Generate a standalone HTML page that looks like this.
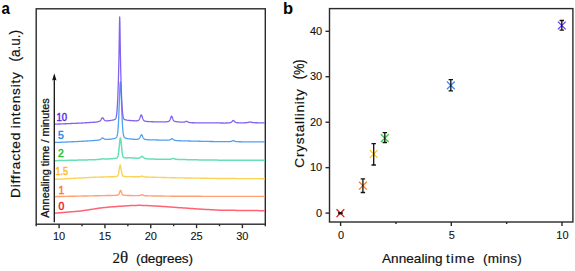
<!DOCTYPE html>
<html><head><meta charset="utf-8"><style>
html,body{margin:0;padding:0;background:#fff;width:575px;height:271px;overflow:hidden;}
svg{display:block;}
</style></head><body>
<svg width="575" height="271" viewBox="0 0 575 271">
<rect width="575" height="271" fill="#fff"/>
<rect x="36.2" y="8.8" width="229.10" height="215.40" fill="none" stroke="#2a2a2a" stroke-width="1.4"/>
<line x1="36.20" y1="224.2" x2="36.20" y2="226.2" stroke="#2a2a2a" stroke-width="1.4"/>
<line x1="59.11" y1="224.2" x2="59.11" y2="228.2" stroke="#2a2a2a" stroke-width="1.4"/>
<line x1="82.02" y1="224.2" x2="82.02" y2="226.2" stroke="#2a2a2a" stroke-width="1.4"/>
<line x1="104.93" y1="224.2" x2="104.93" y2="228.2" stroke="#2a2a2a" stroke-width="1.4"/>
<line x1="127.84" y1="224.2" x2="127.84" y2="226.2" stroke="#2a2a2a" stroke-width="1.4"/>
<line x1="150.75" y1="224.2" x2="150.75" y2="228.2" stroke="#2a2a2a" stroke-width="1.4"/>
<line x1="173.66" y1="224.2" x2="173.66" y2="226.2" stroke="#2a2a2a" stroke-width="1.4"/>
<line x1="196.57" y1="224.2" x2="196.57" y2="228.2" stroke="#2a2a2a" stroke-width="1.4"/>
<line x1="219.48" y1="224.2" x2="219.48" y2="226.2" stroke="#2a2a2a" stroke-width="1.4"/>
<line x1="242.39" y1="224.2" x2="242.39" y2="228.2" stroke="#2a2a2a" stroke-width="1.4"/>
<line x1="265.30" y1="224.2" x2="265.30" y2="226.2" stroke="#2a2a2a" stroke-width="1.4"/>
<text x="59.11" y="240" font-size="11" text-anchor="middle" font-family="Liberation Sans, sans-serif" fill="#111" stroke="#111" stroke-width="0.1">10</text>
<text x="104.93" y="240" font-size="11" text-anchor="middle" font-family="Liberation Sans, sans-serif" fill="#111" stroke="#111" stroke-width="0.1">15</text>
<text x="150.75" y="240" font-size="11" text-anchor="middle" font-family="Liberation Sans, sans-serif" fill="#111" stroke="#111" stroke-width="0.1">20</text>
<text x="196.57" y="240" font-size="11" text-anchor="middle" font-family="Liberation Sans, sans-serif" fill="#111" stroke="#111" stroke-width="0.1">25</text>
<text x="242.39" y="240" font-size="11" text-anchor="middle" font-family="Liberation Sans, sans-serif" fill="#111" stroke="#111" stroke-width="0.1">30</text>
<path d="M55.00,213.20 L56.00,213.11 L57.00,213.03 L58.00,212.94 L59.00,212.85 L60.00,212.77 L61.00,212.68 L62.00,212.59 L63.00,212.51 L64.00,212.42 L65.00,212.33 L66.00,212.25 L67.00,212.16 L68.00,212.07 L69.00,211.99 L70.00,211.90 L71.00,211.82 L72.00,211.74 L73.00,211.66 L74.00,211.58 L75.00,211.50 L76.00,211.42 L77.00,211.34 L78.00,211.26 L79.00,211.18 L80.00,211.10 L81.00,210.95 L82.00,210.80 L83.00,210.65 L84.00,210.50 L85.00,210.35 L86.00,210.20 L87.00,210.05 L88.00,209.90 L89.00,209.75 L90.00,209.60 L91.00,209.44 L92.00,209.28 L93.00,209.12 L94.00,208.96 L95.00,208.80 L96.00,208.64 L97.00,208.48 L98.00,208.32 L99.00,208.16 L100.00,208.00 L101.00,207.90 L102.00,207.80 L103.00,207.70 L104.00,207.60 L105.00,207.50 L106.00,207.40 L107.00,207.30 L108.00,207.20 L109.00,207.10 L110.00,207.00 L111.00,206.93 L112.00,206.86 L113.00,206.79 L114.00,206.72 L115.00,206.65 L116.00,206.58 L117.00,206.51 L118.00,206.44 L119.00,206.37 L120.00,206.30 L121.00,206.23 L122.00,206.16 L123.00,206.09 L124.00,206.02 L125.00,205.95 L126.00,205.88 L127.00,205.81 L128.00,205.74 L129.00,205.67 L130.00,205.60 L131.00,205.57 L132.00,205.54 L133.00,205.51 L134.00,205.48 L135.00,205.45 L136.00,205.42 L137.00,205.39 L138.00,205.36 L139.00,205.33 L140.00,205.30 L141.00,205.34 L142.00,205.38 L143.00,205.42 L144.00,205.46 L145.00,205.50 L146.00,205.54 L147.00,205.58 L148.00,205.62 L149.00,205.66 L150.00,205.70 L151.00,205.76 L152.00,205.82 L153.00,205.88 L154.00,205.94 L155.00,206.00 L156.00,206.06 L157.00,206.12 L158.00,206.18 L159.00,206.24 L160.00,206.30 L161.00,206.36 L162.00,206.42 L163.00,206.48 L164.00,206.54 L165.00,206.60 L166.00,206.67 L167.00,206.75 L168.00,206.82 L169.00,206.89 L170.00,206.97 L171.00,207.04 L172.00,207.11 L173.00,207.19 L174.00,207.26 L175.00,207.33 L176.00,207.41 L177.00,207.48 L178.00,207.55 L179.00,207.63 L180.00,207.70 L181.00,207.77 L182.00,207.84 L183.00,207.91 L184.00,207.98 L185.00,208.05 L186.00,208.12 L187.00,208.19 L188.00,208.26 L189.00,208.33 L190.00,208.40 L191.00,208.47 L192.00,208.54 L193.00,208.61 L194.00,208.68 L195.00,208.75 L196.00,208.82 L197.00,208.89 L198.00,208.96 L199.00,209.03 L200.00,209.10 L201.00,209.16 L202.00,209.21 L203.00,209.26 L204.00,209.32 L205.00,209.38 L206.00,209.43 L207.00,209.48 L208.00,209.54 L209.00,209.59 L210.00,209.65 L211.00,209.70 L212.00,209.76 L213.00,209.81 L214.00,209.87 L215.00,209.92 L216.00,209.98 L217.00,210.03 L218.00,210.09 L219.00,210.14 L220.00,210.20 L221.00,210.21 L222.00,210.22 L223.00,210.23 L224.00,210.24 L225.00,210.26 L226.00,210.27 L227.00,210.28 L228.00,210.29 L229.00,210.30 L230.00,210.31 L231.00,210.32 L232.00,210.33 L233.00,210.34 L234.00,210.36 L235.00,210.37 L236.00,210.38 L237.00,210.39 L238.00,210.40 L239.00,210.41 L240.00,210.42 L241.00,210.43 L242.00,210.44 L243.00,210.46 L244.00,210.47 L245.00,210.48 L246.00,210.49 L247.00,210.50 L248.00,210.51 L249.00,210.52 L250.00,210.53 L251.00,210.54 L252.00,210.56 L253.00,210.57 L254.00,210.58 L255.00,210.59 L256.00,210.60 L257.00,210.61 L258.00,210.62 L259.00,210.63 L260.00,210.64 L261.00,210.66 L262.00,210.67 L263.00,210.68 L264.00,210.69 L265.00,210.70" fill="none" stroke="#ff6474" stroke-width="1.5" stroke-linejoin="round"/>
<path d="M55.00,196.60 L56.00,196.58 L57.00,196.56 L58.00,196.54 L59.00,196.52 L60.00,196.50 L61.00,196.48 L62.00,196.46 L63.00,196.44 L64.00,196.42 L65.00,196.40 L66.00,196.38 L67.00,196.36 L68.00,196.34 L69.00,196.32 L70.00,196.30 L71.00,196.28 L72.00,196.26 L73.00,196.24 L74.00,196.22 L75.00,196.20 L76.00,196.18 L77.00,196.16 L78.00,196.14 L79.00,196.12 L80.00,196.10 L81.00,196.08 L82.00,196.06 L83.00,196.04 L84.00,196.02 L85.00,196.00 L86.00,195.98 L87.00,195.96 L88.00,195.94 L89.00,195.92 L90.00,195.90 L91.00,195.88 L92.00,195.86 L93.00,195.84 L94.00,195.82 L95.00,195.80 L96.00,195.78 L97.00,195.76 L98.00,195.74 L99.00,195.72 L100.00,195.70 L101.00,195.67 L102.00,195.65 L103.00,195.63 L104.00,195.61 L105.00,195.59 L106.00,195.57 L107.00,195.55 L108.00,195.53 L109.00,195.51 L110.00,195.48 L111.00,195.46 L112.00,195.43 L113.00,195.41 L114.00,195.38 L114.60,195.36 L114.80,195.35 L115.00,195.34 L115.20,195.34 L115.40,195.33 L115.60,195.32 L115.80,195.31 L116.00,195.30 L116.20,195.29 L116.40,195.28 L116.60,195.26 L116.80,195.25 L117.00,195.23 L117.20,195.21 L117.40,195.18 L117.60,195.15 L117.80,195.11 L118.00,195.04 L118.20,194.95 L118.40,194.82 L118.60,194.64 L118.80,194.39 L119.00,194.05 L119.20,193.64 L119.40,193.13 L119.60,192.57 L119.80,191.96 L120.00,191.37 L120.20,190.87 L120.40,190.53 L120.60,190.41 L120.80,190.54 L121.00,190.90 L121.20,191.41 L121.40,192.00 L121.60,192.60 L121.80,193.17 L122.00,193.67 L122.20,194.09 L122.40,194.42 L122.60,194.68 L122.80,194.86 L123.00,194.99 L123.20,195.09 L123.40,195.15 L123.60,195.20 L123.80,195.23 L124.00,195.26 L124.20,195.28 L124.40,195.30 L124.60,195.31 L124.80,195.33 L125.00,195.34 L125.20,195.35 L125.40,195.37 L125.60,195.38 L125.80,195.39 L126.00,195.40 L126.20,195.41 L126.40,195.41 L126.60,195.42 L127.00,195.44 L128.00,195.47 L129.00,195.51 L130.00,195.54 L131.00,195.57 L132.00,195.59 L133.00,195.62 L134.00,195.64 L135.00,195.67 L136.00,195.67 L136.20,195.67 L136.40,195.67 L136.60,195.67 L136.80,195.67 L137.00,195.67 L137.20,195.67 L137.40,195.67 L137.60,195.67 L137.80,195.66 L138.00,195.66 L138.20,195.65 L138.40,195.64 L138.60,195.63 L138.80,195.62 L139.00,195.60 L139.20,195.58 L139.40,195.55 L139.60,195.52 L139.80,195.48 L140.00,195.43 L140.20,195.37 L140.40,195.31 L140.60,195.23 L140.80,195.15 L141.00,195.07 L141.20,194.98 L141.40,194.91 L141.60,194.84 L141.80,194.80 L142.00,194.79 L142.20,194.81 L142.40,194.85 L142.60,194.92 L142.80,195.00 L143.00,195.09 L143.20,195.18 L143.40,195.27 L143.60,195.35 L143.80,195.42 L144.00,195.48 L144.20,195.54 L144.40,195.59 L144.60,195.63 L144.80,195.66 L145.00,195.69 L145.20,195.71 L145.40,195.73 L145.60,195.74 L145.80,195.76 L146.00,195.77 L146.20,195.78 L146.40,195.79 L146.60,195.79 L146.80,195.80 L147.00,195.81 L147.20,195.81 L147.40,195.82 L147.60,195.83 L147.80,195.83 L148.00,195.84 L149.00,195.86 L150.00,195.88 L151.00,195.90 L152.00,195.91 L153.00,195.93 L154.00,195.94 L155.00,195.96 L156.00,195.97 L157.00,195.99 L158.00,196.00 L159.00,196.01 L160.00,196.03 L161.00,196.04 L162.00,196.06 L163.00,196.07 L164.00,196.08 L165.00,196.10 L166.00,196.11 L167.00,196.12 L168.00,196.14 L169.00,196.15 L170.00,196.16 L171.00,196.18 L172.00,196.19 L173.00,196.20 L174.00,196.22 L175.00,196.23 L176.00,196.24 L177.00,196.26 L178.00,196.27 L179.00,196.29 L180.00,196.30 L181.00,196.30 L182.00,196.30 L183.00,196.30 L184.00,196.30 L185.00,196.30 L186.00,196.31 L187.00,196.31 L188.00,196.31 L189.00,196.31 L190.00,196.31 L191.00,196.31 L192.00,196.31 L193.00,196.31 L194.00,196.32 L195.00,196.32 L196.00,196.32 L197.00,196.32 L198.00,196.32 L199.00,196.32 L200.00,196.32 L201.00,196.32 L202.00,196.33 L203.00,196.33 L204.00,196.33 L205.00,196.33 L206.00,196.33 L207.00,196.33 L208.00,196.33 L209.00,196.33 L210.00,196.33 L211.00,196.34 L212.00,196.34 L213.00,196.34 L214.00,196.34 L215.00,196.34 L216.00,196.34 L217.00,196.34 L218.00,196.34 L219.00,196.35 L220.00,196.35 L221.00,196.35 L222.00,196.35 L223.00,196.35 L224.00,196.35 L225.00,196.35 L226.00,196.35 L227.00,196.35 L228.00,196.36 L229.00,196.36 L230.00,196.36 L231.00,196.36 L232.00,196.36 L233.00,196.36 L234.00,196.36 L235.00,196.36 L236.00,196.37 L237.00,196.37 L238.00,196.37 L239.00,196.37 L240.00,196.37 L241.00,196.37 L242.00,196.37 L243.00,196.37 L244.00,196.38 L245.00,196.38 L246.00,196.38 L247.00,196.38 L248.00,196.38 L249.00,196.38 L250.00,196.38 L251.00,196.38 L252.00,196.38 L253.00,196.39 L254.00,196.39 L255.00,196.39 L256.00,196.39 L257.00,196.39 L258.00,196.39 L259.00,196.39 L260.00,196.39 L261.00,196.40 L262.00,196.40 L263.00,196.40 L264.00,196.40 L265.00,196.40" fill="none" stroke="#ffa272" stroke-width="1.4" stroke-linejoin="round"/>
<path d="M55.00,179.30 L56.00,179.25 L57.00,179.19 L58.00,179.14 L59.00,179.09 L60.00,179.04 L61.00,178.98 L62.00,178.93 L63.00,178.88 L64.00,178.83 L65.00,178.77 L66.00,178.72 L67.00,178.67 L68.00,178.62 L69.00,178.56 L70.00,178.51 L71.00,178.46 L72.00,178.41 L73.00,178.35 L74.00,178.30 L75.00,178.25 L76.00,178.19 L77.00,178.14 L78.00,178.09 L79.00,178.04 L80.00,177.98 L81.00,177.93 L82.00,177.88 L83.00,177.83 L84.00,177.77 L85.00,177.72 L86.00,177.67 L87.00,177.62 L88.00,177.56 L89.00,177.51 L90.00,177.46 L91.00,177.40 L92.00,177.35 L93.00,177.30 L94.00,177.24 L95.00,177.19 L96.00,177.16 L97.00,177.14 L98.00,177.11 L99.00,177.08 L100.00,177.05 L101.00,177.03 L102.00,177.00 L103.00,176.97 L104.00,176.94 L105.00,176.91 L106.00,176.88 L107.00,176.85 L108.00,176.82 L109.00,176.79 L110.00,176.75 L111.00,176.74 L112.00,176.72 L113.00,176.69 L114.00,176.65 L114.20,176.64 L114.40,176.63 L114.60,176.62 L114.80,176.61 L115.00,176.60 L115.20,176.58 L115.40,176.56 L115.60,176.55 L115.80,176.53 L116.00,176.50 L116.20,176.47 L116.40,176.44 L116.60,176.40 L116.80,176.34 L117.00,176.27 L117.20,176.17 L117.40,176.03 L117.60,175.83 L117.80,175.55 L118.00,175.16 L118.20,174.63 L118.40,173.95 L118.60,173.10 L118.80,172.08 L119.00,170.90 L119.20,169.62 L119.40,168.30 L119.60,167.05 L119.80,166.01 L120.00,165.30 L120.20,165.05 L120.40,165.30 L120.60,166.00 L120.80,167.05 L121.00,168.29 L121.20,169.61 L121.40,170.89 L121.60,172.06 L121.80,173.09 L122.00,173.94 L122.20,174.61 L122.40,175.13 L122.60,175.52 L122.80,175.80 L123.00,176.00 L123.20,176.14 L123.40,176.24 L123.60,176.31 L123.80,176.36 L124.00,176.40 L124.20,176.43 L124.40,176.46 L124.60,176.48 L124.80,176.50 L125.00,176.51 L125.20,176.53 L125.40,176.54 L125.60,176.55 L125.80,176.56 L126.00,176.57 L126.20,176.58 L127.00,176.60 L128.00,176.62 L129.00,176.63 L130.00,176.64 L131.00,176.67 L132.00,176.69 L133.00,176.72 L134.00,176.74 L135.00,176.76 L136.00,176.77 L136.20,176.77 L136.40,176.78 L136.60,176.78 L136.80,176.78 L137.00,176.78 L137.20,176.78 L137.40,176.78 L137.60,176.78 L137.80,176.78 L138.00,176.78 L138.20,176.78 L138.40,176.78 L138.60,176.77 L138.80,176.76 L139.00,176.75 L139.20,176.73 L139.40,176.71 L139.60,176.69 L139.80,176.66 L140.00,176.62 L140.20,176.58 L140.40,176.53 L140.60,176.47 L140.80,176.41 L141.00,176.35 L141.20,176.28 L141.40,176.22 L141.60,176.18 L141.80,176.15 L142.00,176.14 L142.20,176.16 L142.40,176.20 L142.60,176.26 L142.80,176.33 L143.00,176.40 L143.20,176.47 L143.40,176.55 L143.60,176.61 L143.80,176.67 L144.00,176.73 L144.20,176.77 L144.40,176.82 L144.60,176.85 L144.80,176.88 L145.00,176.90 L145.20,176.93 L145.40,176.94 L145.60,176.96 L145.80,176.97 L146.00,176.99 L146.20,177.00 L146.40,177.01 L146.60,177.02 L146.80,177.02 L147.00,177.03 L147.20,177.04 L147.40,177.05 L147.60,177.06 L147.80,177.06 L148.00,177.07 L149.00,177.10 L150.00,177.14 L151.00,177.16 L152.00,177.19 L153.00,177.22 L154.00,177.25 L155.00,177.28 L156.00,177.30 L157.00,177.33 L158.00,177.36 L159.00,177.38 L160.00,177.41 L161.00,177.43 L162.00,177.46 L163.00,177.49 L164.00,177.51 L165.00,177.54 L166.00,177.56 L167.00,177.59 L168.00,177.62 L169.00,177.64 L170.00,177.67 L171.00,177.69 L172.00,177.72 L173.00,177.75 L174.00,177.77 L175.00,177.80 L176.00,177.81 L177.00,177.83 L178.00,177.84 L179.00,177.86 L180.00,177.88 L181.00,177.89 L182.00,177.91 L183.00,177.92 L184.00,177.94 L185.00,177.95 L186.00,177.97 L187.00,177.99 L188.00,178.00 L189.00,178.02 L190.00,178.03 L191.00,178.05 L192.00,178.06 L193.00,178.08 L194.00,178.09 L195.00,178.11 L196.00,178.13 L197.00,178.14 L198.00,178.16 L199.00,178.17 L200.00,178.19 L201.00,178.20 L202.00,178.22 L203.00,178.23 L204.00,178.25 L205.00,178.27 L206.00,178.28 L207.00,178.30 L208.00,178.31 L209.00,178.33 L210.00,178.34 L211.00,178.36 L212.00,178.37 L213.00,178.39 L214.00,178.41 L215.00,178.42 L216.00,178.44 L217.00,178.45 L218.00,178.47 L219.00,178.48 L220.00,178.50 L221.00,178.50 L222.00,178.51 L223.00,178.51 L224.00,178.52 L225.00,178.52 L226.00,178.53 L227.00,178.53 L228.00,178.53 L229.00,178.54 L230.00,178.54 L231.00,178.55 L232.00,178.55 L233.00,178.56 L234.00,178.56 L235.00,178.57 L236.00,178.57 L237.00,178.58 L238.00,178.58 L239.00,178.58 L240.00,178.59 L241.00,178.59 L242.00,178.60 L243.00,178.60 L244.00,178.61 L245.00,178.61 L246.00,178.62 L247.00,178.62 L248.00,178.62 L249.00,178.63 L250.00,178.63 L251.00,178.64 L252.00,178.64 L253.00,178.65 L254.00,178.65 L255.00,178.66 L256.00,178.66 L257.00,178.66 L258.00,178.67 L259.00,178.67 L260.00,178.68 L261.00,178.68 L262.00,178.69 L263.00,178.69 L264.00,178.70 L265.00,178.70" fill="none" stroke="#fbd25a" stroke-width="1.4" stroke-linejoin="round"/>
<path d="M55.00,160.70 L56.00,160.67 L57.00,160.65 L58.00,160.62 L59.00,160.60 L60.00,160.57 L61.00,160.55 L62.00,160.52 L63.00,160.50 L64.00,160.47 L65.00,160.45 L66.00,160.42 L67.00,160.40 L68.00,160.37 L69.00,160.35 L70.00,160.32 L71.00,160.30 L72.00,160.27 L73.00,160.25 L74.00,160.22 L75.00,160.19 L76.00,160.17 L77.00,160.14 L78.00,160.12 L79.00,160.09 L80.00,160.07 L81.00,160.04 L82.00,160.02 L83.00,159.99 L84.00,159.97 L85.00,159.94 L86.00,159.92 L87.00,159.89 L88.00,159.86 L89.00,159.84 L90.00,159.81 L91.00,159.79 L92.00,159.76 L93.00,159.73 L94.00,159.70 L95.00,159.68 L96.00,159.62 L96.50,159.59 L96.70,159.58 L96.90,159.57 L97.00,159.56 L97.10,159.55 L97.30,159.54 L97.50,159.53 L97.70,159.52 L97.90,159.50 L98.00,159.50 L98.10,159.49 L98.30,159.47 L98.50,159.46 L98.70,159.44 L98.90,159.43 L99.00,159.42 L99.10,159.41 L99.30,159.39 L99.50,159.37 L99.70,159.35 L99.90,159.32 L100.00,159.31 L100.10,159.29 L100.30,159.26 L100.50,159.22 L100.70,159.18 L100.90,159.14 L101.00,159.11 L101.10,159.09 L101.30,159.03 L101.50,158.98 L101.70,158.93 L101.90,158.87 L102.00,158.85 L102.10,158.83 L102.30,158.80 L102.50,158.78 L102.70,158.78 L102.90,158.79 L103.00,158.80 L103.10,158.81 L103.30,158.84 L103.50,158.87 L103.70,158.90 L103.90,158.93 L104.00,158.95 L104.10,158.96 L104.30,158.98 L104.50,159.00 L104.70,159.02 L104.90,159.03 L105.00,159.03 L105.10,159.03 L105.30,159.04 L105.50,159.04 L105.70,159.04 L105.90,159.03 L106.00,159.03 L106.10,159.03 L106.30,159.02 L106.50,159.01 L106.70,159.01 L106.90,159.00 L107.00,158.99 L107.10,158.99 L107.30,158.98 L107.50,158.97 L107.70,158.96 L107.90,158.95 L108.00,158.94 L108.10,158.94 L108.30,158.93 L108.50,158.92 L109.00,158.89 L110.00,158.83 L111.00,158.76 L112.00,158.69 L113.00,158.62 L114.00,158.53 L114.40,158.49 L114.60,158.47 L114.80,158.44 L115.00,158.42 L115.20,158.39 L115.40,158.36 L115.60,158.33 L115.80,158.30 L116.00,158.26 L116.20,158.21 L116.40,158.16 L116.60,158.09 L116.80,158.00 L117.00,157.88 L117.20,157.71 L117.40,157.47 L117.60,157.13 L117.80,156.67 L118.00,156.03 L118.20,155.18 L118.40,154.10 L118.60,152.74 L118.80,151.12 L119.00,149.25 L119.20,147.19 L119.40,145.03 L119.60,142.90 L119.80,140.96 L120.00,139.38 L120.20,138.34 L120.40,137.97 L120.60,138.32 L120.80,139.34 L121.00,140.90 L121.20,142.82 L121.40,144.93 L121.60,147.07 L121.80,149.11 L122.00,150.96 L122.20,152.56 L122.40,153.89 L122.60,154.96 L122.80,155.79 L123.00,156.40 L123.20,156.85 L123.40,157.17 L123.60,157.39 L123.80,157.54 L124.00,157.64 L124.20,157.71 L124.40,157.76 L124.60,157.79 L124.80,157.81 L125.00,157.83 L125.20,157.85 L125.40,157.86 L125.60,157.87 L125.80,157.87 L126.00,157.88 L126.20,157.88 L126.40,157.88 L127.00,157.88 L128.00,157.87 L129.00,157.84 L130.00,157.80 L131.00,157.87 L132.00,157.93 L133.00,157.99 L134.00,158.04 L135.00,158.09 L136.00,158.13 L136.20,158.14 L136.40,158.15 L136.60,158.15 L136.80,158.16 L137.00,158.16 L137.20,158.16 L137.40,158.17 L137.60,158.17 L137.80,158.16 L138.00,158.16 L138.20,158.15 L138.40,158.14 L138.60,158.13 L138.80,158.10 L139.00,158.07 L139.20,158.02 L139.40,157.97 L139.60,157.90 L139.80,157.81 L140.00,157.70 L140.20,157.57 L140.40,157.43 L140.60,157.26 L140.80,157.08 L141.00,156.90 L141.20,156.71 L141.40,156.54 L141.60,156.40 L141.80,156.31 L142.00,156.29 L142.20,156.34 L142.40,156.45 L142.60,156.62 L142.80,156.81 L143.00,157.02 L143.20,157.23 L143.40,157.44 L143.60,157.63 L143.80,157.80 L144.00,157.95 L144.20,158.08 L144.40,158.20 L144.60,158.29 L144.80,158.38 L145.00,158.45 L145.20,158.50 L145.40,158.55 L145.60,158.60 L145.80,158.63 L146.00,158.66 L146.20,158.69 L146.40,158.72 L146.60,158.74 L146.80,158.77 L147.00,158.79 L147.20,158.81 L147.40,158.83 L147.60,158.85 L147.80,158.87 L148.00,158.88 L149.00,158.97 L150.00,159.04 L151.00,159.06 L152.00,159.08 L153.00,159.10 L154.00,159.12 L155.00,159.13 L156.00,159.15 L157.00,159.16 L158.00,159.17 L159.00,159.19 L160.00,159.20 L161.00,159.21 L162.00,159.22 L163.00,159.23 L164.00,159.24 L165.00,159.25 L166.00,159.26 L167.00,159.27 L167.20,159.27 L167.40,159.27 L167.60,159.27 L167.80,159.27 L168.00,159.27 L168.20,159.27 L168.40,159.26 L168.60,159.26 L168.80,159.26 L169.00,159.26 L169.20,159.25 L169.40,159.25 L169.60,159.24 L169.80,159.23 L170.00,159.22 L170.20,159.21 L170.40,159.19 L170.60,159.16 L170.80,159.13 L171.00,159.09 L171.20,159.05 L171.40,159.00 L171.60,158.94 L171.80,158.87 L172.00,158.80 L172.20,158.72 L172.40,158.65 L172.60,158.58 L172.80,158.52 L173.00,158.48 L173.20,158.47 L173.40,158.49 L173.60,158.53 L173.80,158.59 L174.00,158.67 L174.20,158.75 L174.40,158.83 L174.60,158.90 L174.80,158.98 L175.00,159.04 L175.20,159.10 L175.40,159.15 L175.60,159.19 L175.80,159.23 L176.00,159.26 L176.20,159.29 L176.40,159.31 L176.60,159.33 L176.80,159.34 L177.00,159.36 L177.20,159.37 L177.40,159.38 L177.60,159.39 L177.80,159.40 L178.00,159.41 L178.20,159.41 L178.40,159.42 L178.60,159.43 L178.80,159.44 L179.00,159.44 L179.20,159.45 L180.00,159.47 L181.00,159.50 L182.00,159.52 L183.00,159.54 L184.00,159.57 L185.00,159.59 L186.00,159.61 L187.00,159.63 L188.00,159.65 L189.00,159.67 L190.00,159.69 L191.00,159.71 L192.00,159.73 L193.00,159.75 L194.00,159.77 L195.00,159.80 L196.00,159.82 L197.00,159.84 L198.00,159.86 L199.00,159.88 L200.00,159.90 L201.00,159.92 L202.00,159.94 L203.00,159.96 L204.00,159.98 L205.00,160.00 L206.00,160.02 L207.00,160.04 L208.00,160.06 L209.00,160.08 L210.00,160.10 L211.00,160.10 L212.00,160.10 L213.00,160.11 L214.00,160.11 L215.00,160.12 L216.00,160.12 L217.00,160.12 L218.00,160.13 L219.00,160.13 L220.00,160.13 L221.00,160.14 L222.00,160.14 L223.00,160.15 L224.00,160.15 L225.00,160.15 L226.00,160.16 L227.00,160.16 L228.00,160.16 L229.00,160.17 L230.00,160.17 L231.00,160.18 L232.00,160.18 L233.00,160.18 L234.00,160.19 L235.00,160.19 L236.00,160.19 L237.00,160.20 L238.00,160.20 L239.00,160.20 L240.00,160.21 L241.00,160.21 L242.00,160.22 L243.00,160.22 L244.00,160.22 L245.00,160.23 L246.00,160.23 L247.00,160.23 L248.00,160.24 L249.00,160.24 L250.00,160.24 L251.00,160.25 L252.00,160.25 L253.00,160.26 L254.00,160.26 L255.00,160.26 L256.00,160.27 L257.00,160.27 L258.00,160.27 L259.00,160.28 L260.00,160.28 L261.00,160.28 L262.00,160.29 L263.00,160.29 L264.00,160.30 L265.00,160.30" fill="none" stroke="#68deb4" stroke-width="1.5" stroke-linejoin="round"/>
<path d="M55.00,142.49 L56.00,142.45 L57.00,142.41 L58.00,142.36 L59.00,142.32 L60.00,142.28 L61.00,142.24 L62.00,142.20 L63.00,142.15 L64.00,142.11 L65.00,142.07 L66.00,142.03 L67.00,141.98 L68.00,141.94 L69.00,141.90 L70.00,141.86 L71.00,141.82 L72.00,141.77 L73.00,141.73 L74.00,141.69 L75.00,141.65 L76.00,141.60 L77.00,141.56 L78.00,141.52 L79.00,141.47 L80.00,141.41 L81.00,141.35 L82.00,141.29 L83.00,141.23 L84.00,141.16 L85.00,141.10 L86.00,141.04 L87.00,140.98 L88.00,140.91 L89.00,140.85 L90.00,140.78 L91.00,140.72 L92.00,140.65 L93.00,140.58 L94.00,140.51 L95.00,140.44 L96.00,140.36 L96.50,140.32 L96.70,140.30 L96.90,140.28 L97.00,140.27 L97.10,140.26 L97.30,140.24 L97.50,140.22 L97.70,140.20 L97.90,140.18 L98.00,140.17 L98.10,140.16 L98.30,140.13 L98.50,140.10 L98.70,140.07 L98.90,140.04 L99.00,140.02 L99.10,140.00 L99.30,139.95 L99.50,139.89 L99.70,139.83 L99.90,139.75 L100.00,139.71 L100.10,139.66 L100.30,139.56 L100.50,139.44 L100.70,139.30 L100.90,139.14 L101.00,139.06 L101.10,138.97 L101.30,138.79 L101.50,138.60 L101.70,138.41 L101.90,138.24 L102.00,138.16 L102.10,138.09 L102.30,137.98 L102.50,137.94 L102.70,137.95 L102.90,138.02 L103.00,138.07 L103.10,138.13 L103.30,138.28 L103.50,138.43 L103.70,138.59 L103.90,138.74 L104.00,138.81 L104.10,138.87 L104.30,138.99 L104.50,139.10 L104.70,139.18 L104.90,139.25 L105.00,139.28 L105.10,139.31 L105.30,139.35 L105.50,139.38 L105.70,139.40 L105.90,139.42 L106.00,139.42 L106.10,139.42 L106.30,139.42 L106.50,139.42 L106.70,139.42 L106.90,139.41 L107.00,139.40 L107.10,139.40 L107.30,139.39 L107.50,139.38 L107.70,139.36 L107.90,139.35 L108.00,139.34 L108.10,139.33 L108.30,139.31 L108.50,139.30 L109.00,139.25 L110.00,139.14 L111.00,139.07 L112.00,138.98 L113.00,138.84 L114.00,138.64 L114.40,138.54 L114.60,138.48 L114.80,138.41 L115.00,138.34 L115.20,138.25 L115.40,138.16 L115.60,138.05 L115.80,137.93 L116.00,137.79 L116.20,137.61 L116.40,137.39 L116.60,137.10 L116.80,136.73 L117.00,136.23 L117.20,135.56 L117.40,134.65 L117.60,133.44 L117.80,131.84 L118.00,129.77 L118.20,127.16 L118.40,123.94 L118.60,120.09 L118.80,115.63 L119.00,110.64 L119.20,105.25 L119.40,99.70 L119.60,94.28 L119.80,89.37 L120.00,85.39 L120.20,82.79 L120.40,81.87 L120.60,82.78 L120.80,85.39 L121.00,89.36 L121.20,94.26 L121.40,99.68 L121.60,105.23 L121.80,110.61 L122.00,115.60 L122.20,120.05 L122.40,123.90 L122.60,127.11 L122.80,129.72 L123.00,131.78 L123.20,133.38 L123.40,134.59 L123.60,135.49 L123.80,136.16 L124.00,136.66 L124.20,137.03 L124.40,137.31 L124.60,137.52 L124.80,137.70 L125.00,137.84 L125.20,137.96 L125.40,138.06 L125.60,138.15 L125.80,138.22 L126.00,138.29 L126.20,138.36 L126.40,138.41 L127.00,138.55 L128.00,138.72 L129.00,138.82 L130.00,138.89 L131.00,139.00 L132.00,139.10 L133.00,139.18 L134.00,139.24 L135.00,139.29 L135.50,139.31 L135.70,139.31 L135.90,139.32 L136.00,139.32 L136.10,139.32 L136.30,139.32 L136.50,139.32 L136.70,139.32 L136.90,139.31 L137.00,139.31 L137.10,139.30 L137.30,139.28 L137.50,139.26 L137.70,139.23 L137.90,139.19 L138.00,139.17 L138.10,139.14 L138.30,139.08 L138.50,139.00 L138.70,138.90 L138.90,138.78 L139.00,138.70 L139.10,138.62 L139.30,138.42 L139.50,138.18 L139.70,137.89 L139.90,137.56 L140.00,137.37 L140.10,137.17 L140.30,136.75 L140.50,136.29 L140.70,135.83 L140.90,135.40 L141.00,135.20 L141.10,135.04 L141.30,134.79 L141.50,134.71 L141.70,134.80 L141.90,135.06 L142.00,135.23 L142.10,135.43 L142.30,135.87 L142.50,136.35 L142.70,136.81 L142.90,137.25 L143.00,137.45 L143.10,137.64 L143.30,137.99 L143.50,138.29 L143.70,138.54 L143.90,138.75 L144.00,138.84 L144.10,138.92 L144.30,139.06 L144.50,139.17 L144.70,139.26 L144.90,139.33 L145.00,139.36 L145.10,139.39 L145.30,139.44 L145.50,139.48 L145.70,139.51 L145.90,139.54 L146.00,139.56 L146.10,139.57 L146.30,139.59 L146.50,139.62 L146.70,139.64 L146.90,139.66 L147.00,139.66 L147.10,139.67 L147.30,139.69 L147.50,139.70 L148.00,139.73 L149.00,139.78 L150.00,139.82 L151.00,139.85 L152.00,139.88 L153.00,139.91 L154.00,139.93 L155.00,139.95 L156.00,139.97 L157.00,139.99 L158.00,140.01 L159.00,140.03 L160.00,140.04 L161.00,140.07 L162.00,140.10 L163.00,140.13 L164.00,140.15 L165.00,140.17 L166.00,140.19 L166.20,140.19 L166.40,140.19 L166.60,140.19 L166.80,140.20 L167.00,140.19 L167.20,140.19 L167.40,140.19 L167.60,140.19 L167.80,140.18 L168.00,140.18 L168.20,140.17 L168.40,140.16 L168.60,140.14 L168.80,140.12 L169.00,140.09 L169.20,140.05 L169.40,140.00 L169.60,139.94 L169.80,139.87 L170.00,139.78 L170.20,139.68 L170.40,139.56 L170.60,139.43 L170.80,139.29 L171.00,139.14 L171.20,139.00 L171.40,138.86 L171.60,138.75 L171.80,138.68 L172.00,138.66 L172.20,138.70 L172.40,138.78 L172.60,138.91 L172.80,139.06 L173.00,139.22 L173.20,139.39 L173.40,139.55 L173.60,139.69 L173.80,139.83 L174.00,139.94 L174.20,140.05 L174.40,140.13 L174.60,140.21 L174.80,140.27 L175.00,140.32 L175.20,140.37 L175.40,140.40 L175.60,140.43 L175.80,140.46 L176.00,140.48 L176.20,140.51 L176.40,140.53 L176.60,140.54 L176.80,140.56 L177.00,140.57 L177.20,140.59 L177.40,140.60 L177.60,140.62 L177.80,140.63 L178.00,140.64 L179.00,140.70 L180.00,140.75 L181.00,140.78 L182.00,140.81 L183.00,140.84 L184.00,140.86 L185.00,140.89 L186.00,140.92 L187.00,140.94 L188.00,140.97 L189.00,140.99 L190.00,141.02 L191.00,141.04 L192.00,141.06 L193.00,141.09 L194.00,141.11 L195.00,141.14 L196.00,141.16 L197.00,141.18 L198.00,141.21 L199.00,141.23 L200.00,141.25 L201.00,141.28 L202.00,141.30 L203.00,141.33 L204.00,141.35 L205.00,141.37 L206.00,141.40 L207.00,141.42 L208.00,141.44 L209.00,141.47 L210.00,141.49 L211.00,141.50 L212.00,141.51 L213.00,141.52 L214.00,141.53 L215.00,141.54 L216.00,141.55 L217.00,141.56 L218.00,141.57 L219.00,141.58 L220.00,141.59 L221.00,141.59 L222.00,141.60 L223.00,141.61 L224.00,141.62 L225.00,141.62 L226.00,141.63 L227.00,141.63 L227.30,141.63 L227.50,141.63 L227.70,141.63 L227.90,141.63 L228.00,141.63 L228.10,141.63 L228.30,141.62 L228.50,141.62 L228.70,141.62 L228.90,141.61 L229.00,141.61 L229.10,141.61 L229.30,141.60 L229.50,141.60 L229.70,141.59 L229.90,141.57 L230.00,141.57 L230.10,141.56 L230.30,141.54 L230.50,141.51 L230.70,141.48 L230.90,141.44 L231.00,141.42 L231.10,141.40 L231.30,141.34 L231.50,141.28 L231.70,141.20 L231.90,141.12 L232.00,141.08 L232.10,141.03 L232.30,140.94 L232.50,140.85 L232.70,140.76 L232.90,140.69 L233.00,140.66 L233.10,140.64 L233.30,140.63 L233.50,140.65 L233.70,140.70 L233.90,140.77 L234.00,140.82 L234.10,140.86 L234.30,140.96 L234.50,141.06 L234.70,141.15 L234.90,141.24 L235.00,141.28 L235.10,141.31 L235.30,141.38 L235.50,141.44 L235.70,141.49 L235.90,141.54 L236.00,141.55 L236.10,141.57 L236.30,141.60 L236.50,141.62 L236.70,141.64 L236.90,141.66 L237.00,141.67 L237.10,141.67 L237.30,141.68 L237.50,141.69 L237.70,141.70 L237.90,141.71 L238.00,141.71 L238.10,141.72 L238.30,141.72 L238.50,141.73 L238.70,141.74 L238.90,141.74 L239.00,141.74 L239.10,141.75 L239.30,141.75 L240.00,141.76 L241.00,141.77 L242.00,141.78 L243.00,141.78 L244.00,141.78 L245.00,141.79 L246.00,141.79 L247.00,141.79 L248.00,141.79 L249.00,141.79 L250.00,141.79 L251.00,141.79 L252.00,141.79 L253.00,141.79 L254.00,141.79 L255.00,141.79 L256.00,141.79 L257.00,141.79 L258.00,141.79 L259.00,141.80 L260.00,141.80 L261.00,141.80 L262.00,141.80 L263.00,141.80 L264.00,141.80 L265.00,141.80" fill="none" stroke="#52a0f0" stroke-width="1.3" stroke-linejoin="round"/>
<path d="M55.00,124.19 L56.00,124.15 L57.00,124.11 L58.00,124.07 L59.00,124.02 L60.00,123.98 L61.00,123.94 L62.00,123.90 L63.00,123.86 L64.00,123.81 L65.00,123.77 L66.00,123.73 L67.00,123.69 L68.00,123.64 L69.00,123.60 L70.00,123.56 L71.00,123.52 L72.00,123.47 L73.00,123.43 L74.00,123.39 L75.00,123.35 L76.00,123.30 L77.00,123.26 L78.00,123.22 L79.00,123.18 L80.00,123.12 L81.00,123.06 L82.00,123.00 L83.00,122.94 L84.00,122.88 L85.00,122.83 L86.00,122.77 L87.00,122.71 L88.00,122.65 L89.00,122.58 L90.00,122.52 L91.00,122.46 L92.00,122.39 L93.00,122.32 L94.00,122.25 L95.00,122.17 L96.00,122.04 L96.50,121.97 L96.70,121.94 L96.90,121.91 L97.00,121.90 L97.10,121.88 L97.30,121.85 L97.50,121.82 L97.70,121.78 L97.90,121.74 L98.00,121.72 L98.10,121.70 L98.30,121.66 L98.50,121.61 L98.70,121.55 L98.90,121.49 L99.00,121.46 L99.10,121.42 L99.30,121.35 L99.50,121.25 L99.70,121.14 L99.90,121.01 L100.00,120.93 L100.10,120.85 L100.30,120.67 L100.50,120.45 L100.70,120.20 L100.90,119.92 L101.00,119.77 L101.10,119.61 L101.30,119.28 L101.50,118.93 L101.70,118.58 L101.90,118.26 L102.00,118.12 L102.10,118.00 L102.30,117.81 L102.50,117.73 L102.70,117.77 L102.90,117.92 L103.00,118.03 L103.10,118.15 L103.30,118.44 L103.50,118.75 L103.70,119.06 L103.90,119.36 L104.00,119.50 L104.10,119.63 L104.30,119.87 L104.50,120.08 L104.70,120.26 L104.90,120.41 L105.00,120.48 L105.10,120.53 L105.30,120.62 L105.50,120.69 L105.70,120.74 L105.90,120.77 L106.00,120.79 L106.10,120.80 L106.30,120.81 L106.50,120.82 L106.70,120.82 L106.90,120.82 L107.00,120.82 L107.10,120.81 L107.30,120.80 L107.50,120.79 L107.70,120.78 L107.90,120.76 L108.00,120.76 L108.10,120.75 L108.30,120.73 L108.50,120.71 L109.00,120.66 L110.00,120.54 L111.00,120.39 L112.00,120.22 L113.00,120.02 L113.70,119.83 L113.90,119.77 L114.00,119.74 L114.10,119.72 L114.30,119.66 L114.50,119.60 L114.70,119.52 L114.90,119.42 L115.00,119.36 L115.10,119.29 L115.30,119.11 L115.50,118.86 L115.70,118.52 L115.90,118.06 L116.00,117.77 L116.10,117.44 L116.30,116.60 L116.50,115.48 L116.70,114.03 L116.90,112.16 L117.00,111.06 L117.10,109.83 L117.30,106.96 L117.50,103.50 L117.70,99.43 L117.90,94.72 L118.00,92.13 L118.10,89.37 L118.30,83.34 L118.50,76.56 L118.70,68.85 L118.90,59.82 L119.00,54.64 L119.10,48.91 L119.30,35.89 L119.50,22.93 L119.70,16.91 L119.90,22.94 L120.00,29.08 L120.10,35.89 L120.30,48.92 L120.50,59.83 L120.70,68.86 L120.90,76.58 L121.00,80.07 L121.10,83.36 L121.30,89.39 L121.50,94.75 L121.70,99.47 L121.90,103.54 L122.00,105.35 L122.10,107.00 L122.30,109.87 L122.50,112.21 L122.70,114.08 L122.90,115.54 L123.00,116.13 L123.10,116.66 L123.30,117.50 L123.50,118.13 L123.70,118.59 L123.90,118.93 L124.00,119.07 L124.10,119.18 L124.30,119.37 L124.50,119.51 L124.70,119.61 L124.90,119.69 L125.00,119.73 L125.10,119.76 L125.30,119.82 L125.50,119.86 L125.70,119.91 L126.00,119.96 L127.00,120.15 L128.00,120.29 L129.00,120.40 L130.00,120.50 L131.00,120.58 L132.00,120.65 L133.00,120.72 L134.00,120.76 L135.00,120.79 L135.30,120.80 L135.50,120.80 L135.70,120.80 L135.90,120.80 L136.00,120.80 L136.10,120.80 L136.30,120.79 L136.50,120.78 L136.70,120.77 L136.90,120.76 L137.00,120.75 L137.10,120.74 L137.30,120.71 L137.50,120.68 L137.70,120.63 L137.90,120.58 L138.00,120.54 L138.10,120.50 L138.30,120.41 L138.50,120.28 L138.70,120.13 L138.90,119.93 L139.00,119.81 L139.10,119.67 L139.30,119.37 L139.50,119.00 L139.70,118.57 L139.90,118.07 L140.00,117.80 L140.10,117.52 L140.30,116.94 L140.50,116.35 L140.70,115.79 L140.90,115.33 L141.00,115.15 L141.10,115.02 L141.30,114.92 L141.50,115.04 L141.70,115.38 L141.90,115.87 L142.00,116.16 L142.10,116.45 L142.30,117.07 L142.50,117.68 L142.70,118.26 L142.90,118.78 L143.00,119.02 L143.10,119.24 L143.30,119.63 L143.50,119.97 L143.70,120.24 L143.90,120.47 L144.00,120.57 L144.10,120.66 L144.30,120.81 L144.50,120.93 L144.70,121.03 L144.90,121.11 L145.00,121.15 L145.10,121.18 L145.30,121.23 L145.50,121.27 L145.70,121.31 L145.90,121.34 L146.00,121.36 L146.10,121.37 L146.30,121.40 L146.50,121.43 L146.70,121.45 L146.90,121.47 L147.00,121.48 L147.10,121.49 L147.30,121.50 L148.00,121.56 L149.00,121.62 L150.00,121.66 L151.00,121.70 L152.00,121.74 L153.00,121.77 L154.00,121.79 L155.00,121.82 L156.00,121.84 L157.00,121.86 L158.00,121.88 L159.00,121.90 L160.00,121.92 L161.00,121.91 L162.00,121.90 L163.00,121.89 L164.00,121.87 L165.00,121.84 L165.60,121.82 L165.80,121.81 L166.00,121.79 L166.20,121.78 L166.40,121.77 L166.60,121.75 L166.80,121.73 L167.00,121.72 L167.20,121.69 L167.40,121.67 L167.60,121.64 L167.80,121.60 L168.00,121.56 L168.20,121.51 L168.40,121.44 L168.60,121.36 L168.80,121.25 L169.00,121.12 L169.20,120.95 L169.40,120.74 L169.60,120.47 L169.80,120.15 L170.00,119.75 L170.20,119.30 L170.40,118.78 L170.60,118.22 L170.80,117.63 L171.00,117.07 L171.20,116.58 L171.40,116.25 L171.60,116.13 L171.80,116.25 L172.00,116.57 L172.20,117.05 L172.40,117.61 L172.60,118.19 L172.80,118.75 L173.00,119.26 L173.20,119.71 L173.40,120.10 L173.60,120.42 L173.80,120.68 L174.00,120.89 L174.20,121.06 L174.40,121.18 L174.60,121.28 L174.80,121.36 L175.00,121.42 L175.20,121.47 L175.40,121.51 L175.60,121.54 L175.80,121.57 L176.00,121.59 L176.20,121.63 L176.40,121.66 L176.60,121.69 L176.80,121.72 L177.00,121.74 L177.20,121.77 L177.40,121.79 L177.60,121.81 L178.00,121.86 L179.00,121.95 L180.00,122.03 L180.60,122.07 L180.80,122.08 L181.00,122.10 L181.20,122.11 L181.40,122.12 L181.60,122.13 L181.80,122.14 L182.00,122.15 L182.20,122.16 L182.40,122.17 L182.60,122.17 L182.80,122.18 L183.00,122.18 L183.20,122.18 L183.40,122.17 L183.60,122.16 L183.80,122.15 L184.00,122.13 L184.20,122.10 L184.40,122.06 L184.60,122.01 L184.80,121.95 L185.00,121.88 L185.20,121.80 L185.40,121.72 L185.60,121.63 L185.80,121.54 L186.00,121.45 L186.20,121.39 L186.40,121.35 L186.60,121.34 L186.80,121.38 L187.00,121.44 L187.20,121.53 L187.40,121.64 L187.60,121.76 L187.80,121.88 L188.00,121.99 L188.20,122.10 L188.40,122.19 L188.60,122.28 L188.80,122.36 L189.00,122.42 L189.20,122.48 L189.40,122.53 L189.60,122.57 L189.80,122.61 L190.00,122.64 L190.20,122.66 L190.40,122.67 L190.60,122.68 L190.80,122.69 L191.00,122.70 L191.20,122.71 L191.40,122.72 L191.60,122.72 L191.80,122.73 L192.00,122.73 L192.20,122.74 L192.40,122.74 L192.60,122.74 L193.00,122.75 L194.00,122.77 L195.00,122.78 L196.00,122.79 L197.00,122.79 L198.00,122.80 L199.00,122.81 L200.00,122.81 L201.00,122.82 L202.00,122.83 L203.00,122.83 L204.00,122.84 L205.00,122.84 L206.00,122.84 L207.00,122.85 L208.00,122.85 L209.00,122.86 L210.00,122.86 L211.00,122.87 L212.00,122.87 L213.00,122.87 L214.00,122.88 L215.00,122.88 L216.00,122.90 L217.00,122.92 L218.00,122.94 L219.00,122.95 L220.00,122.97 L221.00,122.99 L222.00,123.00 L223.00,123.02 L224.00,123.03 L225.00,123.04 L226.00,123.02 L227.00,122.98 L227.30,122.97 L227.50,122.96 L227.70,122.95 L227.90,122.94 L228.00,122.94 L228.10,122.93 L228.30,122.92 L228.50,122.91 L228.70,122.90 L228.90,122.88 L229.00,122.87 L229.10,122.86 L229.30,122.84 L229.50,122.82 L229.70,122.79 L229.90,122.75 L230.00,122.73 L230.10,122.71 L230.30,122.66 L230.50,122.59 L230.70,122.51 L230.90,122.42 L231.00,122.37 L231.10,122.31 L231.30,122.17 L231.50,122.02 L231.70,121.84 L231.90,121.65 L232.00,121.54 L232.10,121.44 L232.30,121.22 L232.50,121.00 L232.70,120.80 L232.90,120.63 L233.00,120.57 L233.10,120.52 L233.30,120.48 L233.50,120.51 L233.70,120.62 L233.90,120.78 L234.00,120.88 L234.10,120.98 L234.30,121.19 L234.50,121.40 L234.70,121.61 L234.90,121.80 L235.00,121.89 L235.10,121.97 L235.30,122.12 L235.50,122.25 L235.70,122.35 L235.90,122.44 L236.00,122.48 L236.10,122.51 L236.30,122.57 L236.50,122.62 L236.70,122.66 L236.90,122.69 L237.00,122.70 L237.10,122.71 L237.30,122.73 L237.50,122.74 L237.70,122.76 L237.90,122.77 L238.00,122.77 L238.10,122.77 L238.30,122.78 L238.50,122.79 L238.70,122.79 L238.90,122.79 L239.00,122.80 L239.10,122.80 L239.30,122.80 L240.00,122.81 L241.00,122.81 L242.00,122.81 L243.00,122.80 L244.00,122.79 L244.20,122.79 L244.40,122.78 L244.60,122.78 L244.80,122.77 L245.00,122.77 L245.20,122.76 L245.40,122.75 L245.60,122.74 L245.80,122.73 L246.00,122.72 L246.20,122.70 L246.40,122.69 L246.60,122.67 L246.80,122.64 L247.00,122.62 L247.20,122.59 L247.40,122.55 L247.60,122.51 L247.80,122.47 L248.00,122.43 L248.20,122.38 L248.40,122.33 L248.60,122.27 L248.80,122.22 L249.00,122.17 L249.20,122.12 L249.40,122.08 L249.60,122.05 L249.80,122.03 L250.00,122.02 L250.20,122.02 L250.40,122.04 L250.60,122.07 L250.80,122.11 L251.00,122.16 L251.20,122.21 L251.40,122.26 L251.60,122.31 L251.80,122.36 L252.00,122.41 L252.20,122.45 L252.40,122.49 L252.60,122.53 L252.80,122.56 L253.00,122.59 L253.20,122.61 L253.40,122.63 L253.60,122.65 L253.80,122.67 L254.00,122.68 L254.20,122.69 L254.40,122.70 L254.60,122.71 L254.80,122.71 L255.00,122.72 L255.20,122.73 L255.40,122.73 L255.60,122.74 L255.80,122.75 L256.00,122.75 L257.00,122.77 L258.00,122.79 L259.00,122.81 L260.00,122.82 L261.00,122.84 L262.00,122.85 L263.00,122.86 L264.00,122.87 L265.00,122.89" fill="none" stroke="#8262f0" stroke-width="1.3" stroke-linejoin="round"/>
<line x1="54.3" y1="222.2" x2="54.3" y2="79" stroke="#111" stroke-width="1.3"/>
<path d="M54.3,73.3 L56.5,80.5 L54.3,79.5 L52.1,80.5 Z" fill="#111"/>
<text x="56.4" y="120.6" font-size="10.4" font-family="Liberation Sans, sans-serif" fill="#5a2ee6" stroke="#5a2ee6" stroke-width="0.45" textLength="10.6" lengthAdjust="spacingAndGlyphs">10</text>
<text x="58" y="138.7" font-size="10.4" font-family="Liberation Sans, sans-serif" fill="#2f86e8" stroke="#2f86e8" stroke-width="0.45">5</text>
<text x="58" y="157.2" font-size="10.4" font-family="Liberation Sans, sans-serif" fill="#1fc12a" stroke="#1fc12a" stroke-width="0.45">2</text>
<text x="55.5" y="175" font-size="10.4" font-family="Liberation Sans, sans-serif" fill="#ffb81c" stroke="#ffb81c" stroke-width="0.45" textLength="12.5" lengthAdjust="spacingAndGlyphs">1.5</text>
<text x="58.5" y="193.6" font-size="10.4" font-family="Liberation Sans, sans-serif" fill="#ff7a1e" stroke="#ff7a1e" stroke-width="0.45">1</text>
<text x="58.5" y="209.6" font-size="10.4" font-family="Liberation Sans, sans-serif" fill="#ee1c2c" stroke="#ee1c2c" stroke-width="0.45">0</text>
<text transform="translate(48.9,217.8) rotate(-90)" font-size="10" font-family="Liberation Sans, sans-serif" fill="#111" stroke="#111" stroke-width="0.25" textLength="119.6" lengthAdjust="spacingAndGlyphs">Annealing time / minutes</text>
<text transform="translate(20.2,198.0) rotate(-90)" font-size="13.6" font-family="Liberation Sans, sans-serif" fill="#111" stroke="#111" stroke-width="0.18" textLength="65.3" lengthAdjust="spacing">Diffracted</text>
<text transform="translate(20.2,128.3) rotate(-90)" font-size="13.6" font-family="Liberation Sans, sans-serif" fill="#111" stroke="#111" stroke-width="0.18" textLength="56.2" lengthAdjust="spacing">intensity</text>
<text transform="translate(20.4,61.6) rotate(-90)" font-size="14.4" font-family="Liberation Sans, sans-serif" fill="#111" stroke="#111" stroke-width="0.18" textLength="31.5" lengthAdjust="spacingAndGlyphs">(a.u.)</text>
<text x="112.4" y="262.8" font-size="15" font-family="Liberation Serif, serif" fill="#111" stroke="#111" stroke-width="0.15">2</text>
<text x="120.0" y="263.2" font-size="16.5" font-family="Liberation Serif, serif" fill="#111" stroke="#111" stroke-width="0.15" textLength="8.2" lengthAdjust="spacingAndGlyphs">θ</text>
<text x="136.0" y="262.5" font-size="13.6" font-family="Liberation Sans, sans-serif" fill="#111" stroke="#111" stroke-width="0.18" textLength="57.0" lengthAdjust="spacing">(degrees)</text>
<text x="1.6" y="13.8" font-size="16.5" font-weight="bold" font-family="Liberation Sans, sans-serif" fill="#000" textLength="8.4" lengthAdjust="spacingAndGlyphs">a</text>
<text x="283.0" y="14" font-size="16.5" font-weight="bold" font-family="Liberation Sans, sans-serif" fill="#000">b</text>
<rect x="329.5" y="8.6" width="243.40" height="213.40" fill="none" stroke="#2a2a2a" stroke-width="1.4"/>
<line x1="340.60" y1="222.0" x2="340.60" y2="226.0" stroke="#2a2a2a" stroke-width="1.4"/>
<line x1="395.95" y1="222.0" x2="395.95" y2="224.0" stroke="#2a2a2a" stroke-width="1.4"/>
<line x1="451.30" y1="222.0" x2="451.30" y2="226.0" stroke="#2a2a2a" stroke-width="1.4"/>
<line x1="506.65" y1="222.0" x2="506.65" y2="224.0" stroke="#2a2a2a" stroke-width="1.4"/>
<line x1="562.00" y1="222.0" x2="562.00" y2="226.0" stroke="#2a2a2a" stroke-width="1.4"/>
<text x="341.00" y="239.0" font-size="11" text-anchor="middle" font-family="Liberation Sans, sans-serif" fill="#111" stroke="#111" stroke-width="0.1">0</text>
<text x="451.70" y="239.0" font-size="11" text-anchor="middle" font-family="Liberation Sans, sans-serif" fill="#111" stroke="#111" stroke-width="0.1">5</text>
<text x="562.40" y="239.0" font-size="11" text-anchor="middle" font-family="Liberation Sans, sans-serif" fill="#111" stroke="#111" stroke-width="0.1">10</text>
<line x1="329.5" y1="213.10" x2="325.5" y2="213.10" stroke="#2a2a2a" stroke-width="1.4"/>
<text x="322.2" y="216.50" font-size="11" text-anchor="end" font-family="Liberation Sans, sans-serif" fill="#111" stroke="#111" stroke-width="0.1">0</text>
<line x1="329.5" y1="167.65" x2="325.5" y2="167.65" stroke="#2a2a2a" stroke-width="1.4"/>
<text x="322.2" y="171.05" font-size="11" text-anchor="end" font-family="Liberation Sans, sans-serif" fill="#111" stroke="#111" stroke-width="0.1">10</text>
<line x1="329.5" y1="122.20" x2="325.5" y2="122.20" stroke="#2a2a2a" stroke-width="1.4"/>
<text x="322.2" y="125.60" font-size="11" text-anchor="end" font-family="Liberation Sans, sans-serif" fill="#111" stroke="#111" stroke-width="0.1">20</text>
<line x1="329.5" y1="76.75" x2="325.5" y2="76.75" stroke="#2a2a2a" stroke-width="1.4"/>
<text x="322.2" y="80.15" font-size="11" text-anchor="end" font-family="Liberation Sans, sans-serif" fill="#111" stroke="#111" stroke-width="0.1">30</text>
<line x1="329.5" y1="31.30" x2="325.5" y2="31.30" stroke="#2a2a2a" stroke-width="1.4"/>
<text x="322.2" y="34.70" font-size="11" text-anchor="end" font-family="Liberation Sans, sans-serif" fill="#111" stroke="#111" stroke-width="0.1">40</text>
<text transform="translate(303.6,167.7) rotate(-90)" font-size="13.6" font-family="Liberation Sans, sans-serif" fill="#111" stroke="#111" stroke-width="0.18" textLength="78.6" lengthAdjust="spacing">Crystallinity</text>
<text transform="translate(303.8,79.3) rotate(-90)" font-size="14.2" font-family="Liberation Sans, sans-serif" fill="#111" stroke="#111" stroke-width="0.18" textLength="19.9" lengthAdjust="spacingAndGlyphs">(%)</text>
<text x="382.0" y="262.6" font-size="13.6" font-family="Liberation Sans, sans-serif" fill="#111" stroke="#111" stroke-width="0.18" textLength="60.6" lengthAdjust="spacing">Annealing</text>
<text x="446.0" y="262.6" font-size="13.6" font-family="Liberation Sans, sans-serif" fill="#111" stroke="#111" stroke-width="0.18" textLength="28.6" lengthAdjust="spacing">time</text>
<text x="483.0" y="262.6" font-size="13.6" font-family="Liberation Sans, sans-serif" fill="#111" stroke="#111" stroke-width="0.18" textLength="38.8" lengthAdjust="spacing">(mins)</text>
<path d="M336.50,209.30 L344.30,217.10 M336.50,217.10 L344.30,209.30" stroke="#ee1111" stroke-width="1.3" fill="none"/>
<line x1="338.10" y1="213.2" x2="342.70" y2="213.2" stroke="#111" stroke-width="2.2"/>
<path d="M359.00,181.80 L366.80,189.60 M359.00,189.60 L366.80,181.80" stroke="#ff7a22" stroke-width="1.3" fill="none"/>
<path d="M362.90,178.8 L362.90,192.5 M360.70,178.8 L365.10,178.8 M360.70,192.5 L365.10,192.5" stroke="#111" stroke-width="1.3" fill="none"/>
<path d="M369.80,150.10 L377.60,157.90 M369.80,157.90 L377.60,150.10" stroke="#ffc61e" stroke-width="1.3" fill="none"/>
<path d="M373.70,143.6 L373.70,165.0 M371.50,143.6 L375.90,143.6 M371.50,165.0 L375.90,165.0" stroke="#111" stroke-width="1.3" fill="none"/>
<path d="M380.90,134.20 L388.70,142.00 M380.90,142.00 L388.70,134.20" stroke="#2ad636" stroke-width="1.3" fill="none"/>
<path d="M384.80,132.7 L384.80,142.5 M382.60,132.7 L387.00,132.7 M382.60,142.5 L387.00,142.5" stroke="#111" stroke-width="1.3" fill="none"/>
<path d="M446.90,81.50 L454.70,89.30 M446.90,89.30 L454.70,81.50" stroke="#3a8cf5" stroke-width="1.3" fill="none"/>
<path d="M450.80,79.7 L450.80,90.8 M448.60,79.7 L453.00,79.7 M448.60,90.8 L453.00,90.8" stroke="#111" stroke-width="1.3" fill="none"/>
<path d="M557.90,21.60 L565.70,29.40 M557.90,29.40 L565.70,21.60" stroke="#6a3cf0" stroke-width="1.3" fill="none"/>
<path d="M561.80,20.5 L561.80,30.2 M559.60,20.5 L564.00,20.5 M559.60,30.2 L564.00,30.2" stroke="#111" stroke-width="1.3" fill="none"/>
</svg>
</body></html>
